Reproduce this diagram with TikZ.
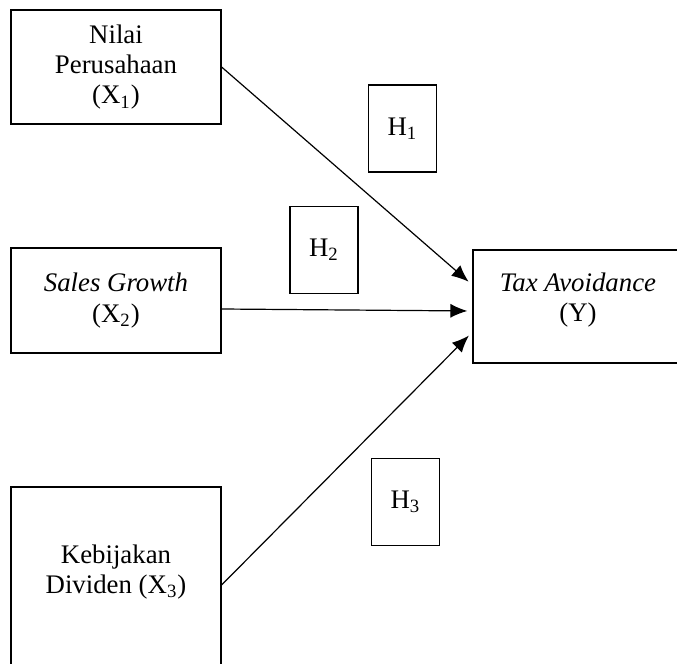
\documentclass[tikz,border=0pt]{standalone}
\usepackage{fontspec}
\setmainfont{Liberation Serif}
\usetikzlibrary{arrows.meta}

\begin{document}
\begin{tikzpicture}[ 
x=0.5pt, y=-0.5pt, 
font=\fontsize{13.4}{15.2}\selectfont, 
box/.style={draw, 
rectangle, 
line width=0.6pt, 
minimum width=105pt, 
align=center}, 
hbox/.style={draw, 
rectangle, 
line width=0.6pt, 
minimum width=34pt, 
minimum height=43.5pt}, 
arrow/.style={-{Latex[length=8.5pt, width=7pt]}, line width=0.6pt, shorten >=2.5pt} 
]

\clip (0,0) rectangle (677,664);

\node[box, minimum height=57pt] (var1) at (116,67) {Nilai\\Perusahaan\\(X\textsubscript{1})}; 
\node[box, minimum height=52.5pt] (var2) at (116,300.5) {\textit{Sales Growth}\\(X\textsubscript{2})}; 
\node[box, minimum height=106.5pt] (var3) at (116,593.5) {}; 
\node[align=center] (var3text) at (116,572) {Kebijakan\\Dividen (X\textsubscript{3})}; 
\node[box, minimum height=56.5pt] (vary) at (578,306.5) {}; 
\node[align=center] (varytext) at (578,300) {\textit{Tax Avoidance}\\(Y)};

\node[hbox] (hyp1) at (402.5,128.5) {H\textsubscript{1}}; 
\node[hbox] (hyp2) at (324,250) {H\textsubscript{2}}; 
\node[hbox] (hyp3) at (405.5,502) {H\textsubscript{3}};

\draw[arrow] (var1.east) -- ([yshift=10.75pt]vary.west); 
\draw[arrow] ([yshift=-4.25pt]var2.east) -- ([yshift=-2.25pt]vary.west); 
\draw[arrow] ([yshift=4.25pt]var3.east) -- ([yshift=-12.75pt]vary.west);

\end{tikzpicture}
\end{document}
